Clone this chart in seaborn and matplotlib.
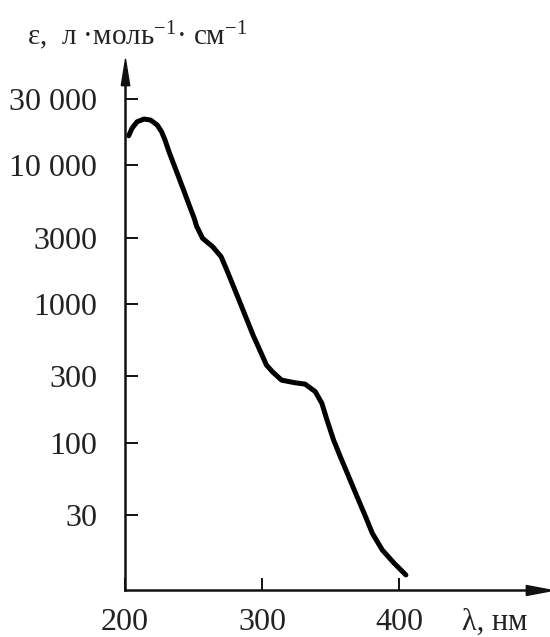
import numpy as np
import pandas as pd
import matplotlib
matplotlib.use("Agg")
import matplotlib.pyplot as plt
import matplotlib.ticker as mticker
import seaborn as sns

# --- data ---
wavelength_nm = [202.7, 205.1, 208.8, 213.8, 218.6, 223.5, 226.7, 229.2, 232.1, 235.8,
                 239.5, 243.2, 246.8, 250.5, 252.2, 256.6, 264.0, 270.1, 273.8, 278.7,
                 283.6, 288.5, 293.4, 298.3, 303.2, 307.7, 314.2, 324.0, 331.4, 338.8,
                 343.6, 347.3, 352.2, 357.1, 363.2, 369.3, 375.5, 380.4, 387.7, 396.3,
                 404.9]
epsilon = [16300, 18450, 20560, 21520, 21170, 19490, 17420, 15180, 12500, 10020,
           8040, 6440, 5160, 4140, 3640, 2970, 2580, 2190, 1800, 1370,
           1040, 787, 596, 465, 362, 323, 282, 270, 264, 233,
           192, 146, 104, 79, 56.8, 40.7, 29.2, 22.2, 16.8, 13.5,
           11.1]
y_ticks = [30, 100, 300, 1000, 3000, 10000, 30000]
y_tick_labels = ["30", "100", "300", "1000", "3000", "10 000", "30 000"]
x_ticks = [200, 300, 400]
x_tick_labels = ["200", "300", "400"]

df = pd.DataFrame({"wl": wavelength_nm, "eps": epsilon})

sns.set_style("white")
plt.rcParams["font.family"] = ["Liberation Serif", "DejaVu Serif"]
plt.rcParams["mathtext.fontset"] = "custom"
plt.rcParams["mathtext.rm"] = "Liberation Serif"
plt.rcParams["mathtext.it"] = "Liberation Serif:italic"

fig = plt.figure(figsize=(5.5, 6.37), dpi=100)
ax = fig.add_axes([125 / 550, 1 - 590 / 637, (539 - 125) / 550, (590 - 72) / 637])

sns.lineplot(data=df, x="wl", y="eps", ax=ax, color="black", linewidth=3.6,
             solid_capstyle="round", solid_joinstyle="round", sort=False)
ax.set_yscale("log")
ax.set_xlim(200, 502)
ax.set_ylim(8.65, 47000)

ax.set_yticks(y_ticks)
ax.yaxis.set_major_formatter(mticker.FixedFormatter(y_tick_labels))
ax.yaxis.set_minor_locator(mticker.NullLocator())
ax.set_xticks(x_ticks)
ax.set_xticklabels(x_tick_labels)

for s in ["top", "right"]:
    ax.spines[s].set_visible(False)
for s in ["left", "bottom"]:
    ax.spines[s].set_linewidth(1.8)
    ax.spines[s].set_color("#111111")

ax.tick_params(axis="both", direction="in", length=9, width=1.4, colors="#111111",
               labelsize=23, labelcolor="#222222", left=True, bottom=True)
ax.tick_params(axis="y", pad=20)
ax.tick_params(axis="x", pad=13)

ax.set_xlabel("")
ax.set_ylabel("")

# arrowheads (narrow triangles)
up_tri = [(-0.32, -1.0), (0.32, -1.0), (0.0, 1.0), (-0.32, -1.0)]
right_tri = [(-1.0, -0.38), (-1.0, 0.38), (1.0, 0.0), (-1.0, -0.38)]
ax.plot(1, 0, marker=right_tri, color="#111111", markersize=19, transform=ax.transAxes,
        clip_on=False)
ax.plot(0, 1, marker=up_tri, color="#111111", markersize=19, transform=ax.transAxes,
        clip_on=False)

fig.text(27 / 550, 1 - 36 / 637, r"ε,  л ·моль$^{-1}$· см$^{-1}$", fontsize=21,
         color="#222222", ha="left", va="center")
fig.text(462 / 550, 1 - 622 / 637, "λ, нм", fontsize=22, color="#222222",
         ha="left", va="center")

fig.savefig("out.png", dpi=100, facecolor="white")
